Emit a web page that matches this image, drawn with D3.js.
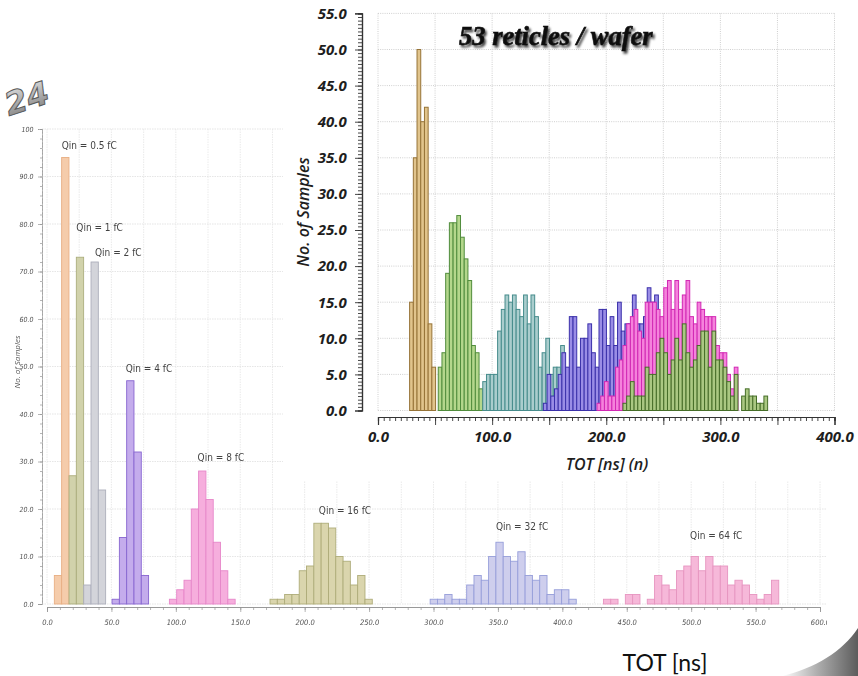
<!DOCTYPE html>
<html>
<head>
<meta charset="utf-8">
<script src="https://cdn.jsdelivr.net/npm/d3@7"></script>
<style>
  body { margin: 0; background: #fff; }
  svg { display: block; }
</style>
</head>
<body>
<svg id="chart" width="858" height="676"></svg>
<script>
// ---------- Charge scan on a single reticle (background plot) ----------
const scanLabels = ["Qin = 0.5 fC", "Qin = 1 fC", "Qin = 2 fC", "Qin = 4 fC",
                    "Qin = 8 fC", "Qin = 16 fC", "Qin = 32 fC", "Qin = 64 fC"];
const scanBin = 5.67;                       // TOT bin width [ns]
const scanStart = [5.7, 17.1, 28.5, 50.5, 95, 173.1, 297.4, 431.9];
const scanCounts = [
  [6, 94],
  [27, 73],
  [4, 72, 24],
  [1, 14, 47, 32, 6],
  [1, 3, 5, 20, 28, 22, 13, 7, 1],
  [1, 1, 2, 2, 7, 8, 17, 17, 16, 10, 9, 4, 6, 1],
  [1, 1, 2, 1, 1, 4, 6, 5, 10, 13, 10, 9, 11, 6, 5, 6, 2, 3, 3, 1],
  [1, 1, 0, 2, 2, 0, 1, 6, 4, 3, 7, 8, 10, 7, 10, 8, 8, 4, 5, 4, 2, 1, 2, 5]
];
const scanXTicks = d3.range(0, 601, 50);
const scanYTicks = d3.range(0, 101, 10);

// ---------- Wafer-level distributions (53 reticles) ----------
const waferTitle = "53 reticles / wafer";
const waferBin = 3.25;                      // TOT bin width [ns]
const waferStart = [27.7, 52.8, 91.8, 144.9, 191.9, 214.65];
const waferCounts = [
  [15, 35, 50, 40, 42, 12, 6],
  [6, 8, 19, 26, 26, 27, 24, 21, 18, 9, 8, 3],
  [4, 5, 5, 5, 11, 14, 16, 15, 16, 14, 13, 16, 12, 16, 13, 6, 8, 10, 5, 6, 6, 9],
  [1, 5, 2, 3, 5, 8, 6, 13, 13, 6, 10, 10, 12, 8, 6, 14, 14, 9, 13, 9, 15, 11, 12, 12, 16, 12, 12, 13, 17, 15, 16],
  [1, 2, 4, 2, 2, 6, 7, 9, 12, 13, 14, 11, 10, 15, 15, 15, 14, 13, 17, 18, 14, 18, 14, 16, 18, 13, 12, 15, 14, 13, 13, 13, 9, 8, 8, 5, 3, 6],
  [1, 2, 4, 2, 2, 2, 6, 5, 5, 8, 10, 8, 5, 7, 10, 7, 12, 8, 6, 7, 9, 11, 11, 6, 11, 7, 7, 6, 4, 2, 5, 0, 2, 3, 2, 2, 1, 1, 2]
];
const waferXTicks = d3.range(0, 401, 100);
const waferYTicks = d3.range(0, 55.01, 5);

// ---------- styling ----------
const scanFill   = ["#f4c7a3", "#cdcea3", "#cfd0d7", "#bea4ea", "#f6a6da", "#d7d1a5", "#c9c9ec", "#f6b1d5"];
const scanStroke = ["#e6a676", "#a3a56f", "#a4a6b4", "#7b56cc", "#e47ac4", "#a6a46c", "#8c94d6", "#e48aba"];
const waferFill   = ["#e1c48c", "#b4d78c", "#aacdcd", "#9a8de6", "#f582dc", "#aac882"];
const waferStroke = ["#967337", "#508c3c", "#468c8c", "#3a30aa", "#d228b4", "#466e28"];

const svg = d3.select("#chart");
const defs = svg.append("defs");
defs.append("filter").attr("id", "soft")
  .append("feGaussianBlur").attr("stdDeviation", 0.45);
const sh = defs.append("filter").attr("id", "shadow")
  .attr("x", "-10%").attr("y", "-40%").attr("width", "130%").attr("height", "200%");
sh.append("feDropShadow").attr("dx", 1.8).attr("dy", 2.4)
  .attr("stdDeviation", 1.3).attr("flood-color", "#000").attr("flood-opacity", 0.75);
const metal = defs.append("linearGradient").attr("id", "metal")
  .attr("x1", 0).attr("y1", 0).attr("x2", 0).attr("y2", 1);
metal.append("stop").attr("offset", "0%").attr("stop-color", "#e4e4e4");
metal.append("stop").attr("offset", "55%").attr("stop-color", "#a8a8a8");
metal.append("stop").attr("offset", "100%").attr("stop-color", "#7a7a7a");
const curl = defs.append("linearGradient").attr("id", "curl")
  .attr("x1", 0).attr("y1", 0).attr("x2", 1).attr("y2", 0);
curl.append("stop").attr("offset", "0%").attr("stop-color", "#ffffff");
curl.append("stop").attr("offset", "45%").attr("stop-color", "#b0b0b0");
curl.append("stop").attr("offset", "100%").attr("stop-color", "#5c5c5c");
defs.append("clipPath").attr("id", "scanClip")
  .append("rect").attr("x", 0).attr("y", 100).attr("width", 827).attr("height", 576);

const bins = (start, counts, w) => counts.map((v, i) => ({ x0: start + i * w, x1: start + (i + 1) * w, v }))
  .filter(d => d.v > 0);

// ================= background plot =================
const bx = d3.scaleLinear().domain([0, 600]).range([47, 820]);
const by = d3.scaleLinear().domain([0, 100]).range([604, 129]);
const bg = svg.append("g").attr("filter", "url(#soft)").attr("clip-path", "url(#scanClip)")
  .attr("opacity", 0.9);

// grid
bg.append("g").selectAll("line.h").data(scanYTicks).join("line")
  .attr("x1", 42).attr("x2", 827).attr("y1", d => by(d)).attr("y2", d => by(d))
  .attr("stroke", "#dcdcdc").attr("stroke-width", 0.8).attr("stroke-dasharray", "1.5,1");
bg.append("g").selectAll("line.v").data(d3.range(0, 601, 25)).join("line")
  .attr("x1", d => bx(d)).attr("x2", d => bx(d)).attr("y1", by(100)).attr("y2", by(0))
  .attr("stroke", "#e2e2e2").attr("stroke-width", 0.8).attr("stroke-dasharray", "1.5,1");

// histograms
scanCounts.forEach((counts, s) => {
  bg.append("g").selectAll("rect").data(bins(scanStart[s], counts, scanBin)).join("rect")
    .attr("x", d => bx(d.x0)).attr("width", d => bx(d.x1) - bx(d.x0))
    .attr("y", d => by(d.v)).attr("height", d => by(0) - by(d.v))
    .attr("fill", scanFill[s]).attr("stroke", scanStroke[s]).attr("stroke-width", 0.9);
});

// labels above each distribution's peak bin
const lblDx = [0, 0, 4, -1, -1, 5, 0, -1];
const lblDy = [9, 26, 6, 9, 10, 9, 12, 18];
scanCounts.forEach((counts, s) => {
  const m = d3.maxIndex(counts);
  bg.append("text")
    .attr("x", bx(scanStart[s] + m * scanBin) + lblDx[s])
    .attr("y", by(counts[m]) - lblDy[s])
    .attr("font-family", "'Liberation Sans Narrow', 'DejaVu Sans Condensed', sans-serif")
    .attr("font-size", 10).attr("fill", "#2e2e2e")
    .text(scanLabels[s]);
});

// axes
const bAxX = bg.append("g").attr("transform", `translate(0,${by(0) + 3})`)
  .call(d3.axisBottom(bx).tickValues(d3.range(0, 601, 10)).tickSize(3).tickFormat(""));
bAxX.append("g").call(d3.axisBottom(bx).tickValues(scanXTicks).tickSize(5).tickFormat(d3.format(".1f")));
bAxX.selectAll("path").attr("stroke", "#8a8a8a").attr("stroke-width", 0.8);
bAxX.selectAll("line").attr("stroke", "#8a8a8a").attr("stroke-width", 0.7);
bAxX.selectAll("text").attr("font-family", "'Liberation Sans Narrow', 'DejaVu Sans Condensed', sans-serif")
  .attr("font-style", "italic").attr("font-size", 7.5).attr("fill", "#3c3c3c").attr("dy", "1.3em");

const bAxY = bg.append("g").attr("transform", `translate(42,0)`)
  .call(d3.axisLeft(by).tickValues(d3.range(0, 101, 2)).tickSize(2).tickFormat(""));
bAxY.append("g").call(d3.axisLeft(by).tickValues(scanYTicks).tickSize(4)
  .tickFormat(d => d === 100 ? "100" : d3.format(".1f")(d)));
bAxY.selectAll("path").attr("stroke", "#8a8a8a").attr("stroke-width", 0.8).attr("stroke-dasharray", "2,1.5");
bAxY.selectAll("line").attr("stroke", "#8a8a8a").attr("stroke-width", 0.7);
bAxY.selectAll("text").attr("font-family", "'Liberation Sans Narrow', 'DejaVu Sans Condensed', sans-serif")
  .attr("font-style", "italic").attr("font-size", 7).attr("fill", "#3c3c3c").attr("dx", "-0.2em");
bg.append("text").attr("transform", "translate(20,362) rotate(-90)")
  .attr("text-anchor", "middle")
  .attr("font-family", "'Open Sans', sans-serif").attr("font-style", "italic")
  .attr("font-size", 8).attr("fill", "#444").text("No. of Samples");

// ================= inset: wafer distributions =================
svg.append("rect").attr("x", 283).attr("y", 0).attr("width", 575).attr("height", 481).attr("fill", "#fff");

const wx = d3.scaleLinear().domain([0, 400]).range([378, 834.5]);
const wy = d3.scaleLinear().domain([0, 55]).range([410.5, 13.4]);
const ins = svg.append("g");

ins.append("g").selectAll("line").data(waferYTicks).join("line")
  .attr("x1", wx(0)).attr("x2", wx(400)).attr("y1", d => wy(d)).attr("y2", d => wy(d))
  .attr("stroke", "#cfcfcf").attr("stroke-width", 1).attr("stroke-dasharray", "1,1.2");
ins.append("g").selectAll("line").data(d3.range(0, 401, 50)).join("line")
  .attr("x1", d => wx(d)).attr("x2", d => wx(d)).attr("y1", wy(55)).attr("y2", wy(0))
  .attr("stroke", "#cfcfcf").attr("stroke-width", 1).attr("stroke-dasharray", "1,1.2");

waferCounts.forEach((counts, s) => {
  ins.append("g").selectAll("rect").data(bins(waferStart[s], counts, waferBin)).join("rect")
    .attr("x", d => wx(d.x0)).attr("width", d => wx(d.x1) - wx(d.x0))
    .attr("y", d => wy(d.v)).attr("height", d => wy(0) - wy(d.v))
    .attr("fill", waferFill[s]).attr("stroke", waferStroke[s]).attr("stroke-width", 1);
});

const tickFont = "'Open Sans', sans-serif";
const axY = ins.append("g").attr("transform", "translate(362,0)")
  .call(d3.axisLeft(wy).tickValues(d3.range(0, 55.01, 0.5)).tickSize(4).tickFormat(""));
axY.append("g").call(d3.axisLeft(wy).tickValues(waferYTicks).tickSize(7).tickFormat(d3.format(".1f")));
axY.selectAll("path").attr("stroke", "#333").attr("stroke-width", 1.2);
axY.selectAll("line").attr("stroke", "#333").attr("stroke-width", 0.9);
axY.selectAll("text").attr("font-family", tickFont).attr("font-weight", 700).attr("font-style", "italic")
  .attr("font-size", 15).attr("fill", "#1e1e1e").attr("dx", "-0.35em");

const axX = ins.append("g").attr("transform", "translate(0,417)")
  .call(d3.axisBottom(wx).tickValues(d3.range(0, 401, 5)).tickSize(4).tickFormat(""));
axX.append("g").call(d3.axisBottom(wx).tickValues(d3.range(0, 401, 50)).tickSize(8).tickFormat(""));
axX.append("g").call(d3.axisBottom(wx).tickValues(waferXTicks).tickSize(0).tickFormat(d3.format(".1f")));
axX.selectAll("path").attr("stroke", "#333").attr("stroke-width", 1.2);
axX.selectAll("line").attr("stroke", "#333").attr("stroke-width", 0.9);
axX.selectAll("text").attr("font-family", tickFont).attr("font-weight", 700).attr("font-style", "italic")
  .attr("font-size", 15).attr("fill", "#1e1e1e").attr("dy", "1.45em");

ins.append("text").attr("x", 607).attr("y", 470).attr("text-anchor", "middle")
  .attr("font-family", tickFont).attr("font-style", "italic").attr("font-weight", 600)
  .attr("font-size", 16).attr("fill", "#1e1e1e").text("TOT [ns] (n)");
ins.append("text").attr("transform", "translate(309,212) rotate(-90)").attr("text-anchor", "middle")
  .attr("font-family", tickFont).attr("font-style", "italic").attr("font-weight", 600)
  .attr("font-size", 16).attr("fill", "#1e1e1e").text("No. of Samples");

ins.append("text").attr("x", 459).attr("y", 45)
  .attr("font-family", "'Liberation Serif', serif").attr("font-weight", 700).attr("font-style", "italic")
  .attr("font-size", 26.5).attr("fill", "#111").attr("stroke", "#111").attr("stroke-width", 0.6)
  .attr("filter", "url(#shadow)").text(waferTitle);

// ---------- page decorations ----------
svg.append("text").attr("transform", "translate(9,116) rotate(-18)")
  .attr("font-family", "'DejaVu Sans', sans-serif").attr("font-weight", 700).attr("font-style", "italic")
  .attr("font-size", 32).attr("fill", "url(#metal)").attr("stroke", "#5a5a5a").attr("stroke-width", 1)
  .text("24");

svg.append("text").attr("x", 665).attr("y", 671).attr("text-anchor", "middle")
  .attr("font-family", "Lato, 'Open Sans', sans-serif").attr("font-size", 23).attr("fill", "#111")
  .text("TOT [ns]");

svg.append("path")
  .attr("d", "M 782 676 C 815 668, 842 652, 858 628 L 858 676 Z")
  .attr("fill", "url(#curl)");
</script>
</body>
</html>
